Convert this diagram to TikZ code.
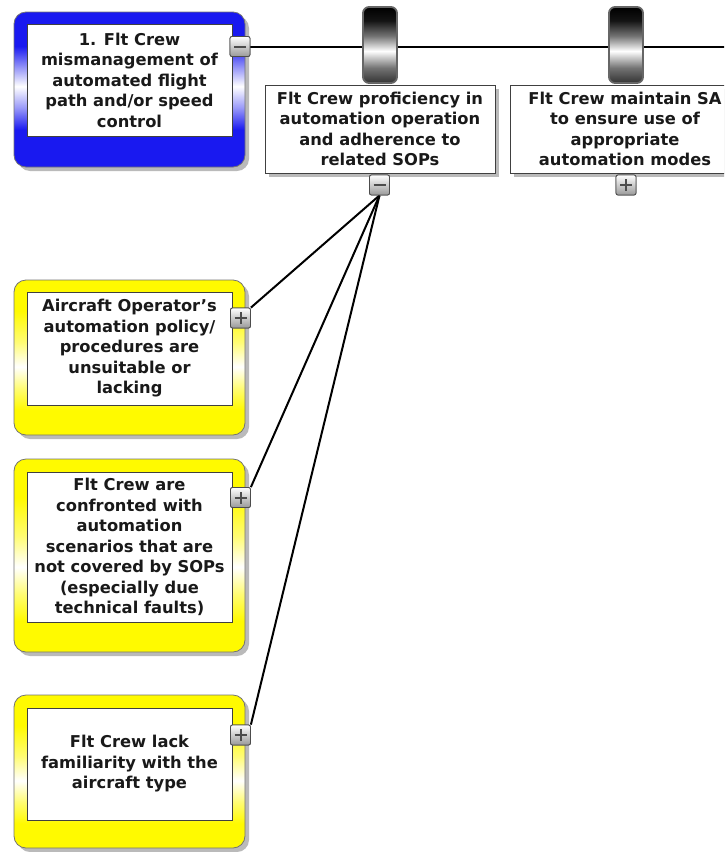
\documentclass[tikz,border=0pt]{standalone}
\usepackage{fontspec}
\setmainfont{DejaVu Sans}
\usetikzlibrary{shadows}
\definecolor{cardblue}{RGB}{25,25,240}
\definecolor{cardyellow}{RGB}{255,250,0}
\definecolor{inktext}{RGB}{25,25,25}
% vertical colour ramps (0bp = bottom, path spans 25bp..75bp)
\pgfdeclareverticalshading{bluecardshade}{100bp}{%
  color(0bp)=(cardblue); color(25bp)=(cardblue); color(37bp)=(cardblue);
  color(44bp)=(cardblue!45!white); color(51bp)=(white); color(57bp)=(cardblue!45!white);
  color(64bp)=(cardblue); color(75bp)=(cardblue); color(100bp)=(cardblue)}
\pgfdeclareverticalshading{yellowcardshade}{100bp}{%
  color(0bp)=(cardyellow); color(25bp)=(cardyellow); color(33bp)=(cardyellow);
  color(40bp)=(cardyellow!55!white); color(47bp)=(white); color(55bp)=(cardyellow!55!white);
  color(65bp)=(cardyellow); color(75bp)=(cardyellow); color(100bp)=(cardyellow)}
\pgfdeclareverticalshading{barriershade}{100bp}{%
  color(0bp)=(black!80); color(25bp)=(black!80); color(35bp)=(black!55);
  color(46bp)=(white); color(56bp)=(black!55); color(66bp)=(black!92);
  color(75bp)=(black); color(100bp)=(black)}
\begin{document}
\begin{tikzpicture}[x=1pt,y=-1pt,
  labeltext/.style={font=\bfseries\fontsize{16.3}{20.5}\selectfont, text=inktext, align=center},
  innerbox/.style={draw=black!75, line width=1pt, fill=white, inner sep=0pt, labeltext},
  cardshadow/.style={drop shadow={shadow xshift=4pt, shadow yshift=-4pt, fill=black!45, opacity=0.6}},
  card/.style={draw=black!55, line width=0.8pt, rounded corners=12pt, cardshadow},
  bluecard/.style={card, shade, shading=bluecardshade},
  yellowcard/.style={card, shade, shading=yellowcardshade},
  barrier/.style={draw=black!60, line width=1.8pt, rounded corners=6pt, shade, shading=barriershade},
  btn/.style={draw=black!70, line width=0.8pt, rounded corners=2pt,
    top color=white, bottom color=black!40, minimum width=20pt, minimum height=20pt, inner sep=0pt},
  sym/.style={line width=2pt, black!70},
  link/.style={line width=2pt, black}
]
\useasboundingbox (0,0) rectangle (724,852);
\clip (0,0) rectangle (724,852);

% outer cards of the threat boxes
\path[bluecard] (14,12) rectangle (245,167);
\path[yellowcard] (14,280) rectangle (245,435);
\path[yellowcard] (14,459) rectangle (245,652);
\path[yellowcard] (14,695) rectangle (245,848);

% text panels
\node[innerbox, minimum width=205pt, minimum height=112pt] (top) at (129.5,80)
  {1. Flt Crew\\mismanagement of\\automated flight\\path and/or speed\\control};
\node[innerbox, minimum width=205pt, minimum height=113pt] (t1) at (129.5,348.5)
  {Aircraft Operator's\\automation policy/\\procedures are\\unsuitable or\\lacking};
\node[innerbox, minimum width=205pt, minimum height=150pt] (t2) at (129.5,547)
  {Flt Crew are\\confronted with\\automation\\scenarios that are\\not covered by SOPs\\(especially due\\technical faults)};
\node[innerbox, minimum width=205pt, minimum height=112pt] (t3) at (129.5,764)
  {Flt Crew lack\\familiarity with the\\aircraft type};

% main pathway line
\node[btn] (topbtn) at (240,46.5) {};
\coordinate (lineend) at (730,46.5);
\draw[link] (topbtn.east) -- (lineend);

% barriers
\path[barrier] (363,7) rectangle ++(34,76);
\path[barrier] (609,7) rectangle ++(34,76);
\node[innerbox, cardshadow, minimum width=230pt, minimum height=88pt] (b1) at (380,129)
  {Flt Crew proficiency in\\automation operation\\and adherence to\\related SOPs};
\node[innerbox, cardshadow, minimum width=230pt, minimum height=88pt] (b2) at (625,129)
  {Flt Crew maintain SA\\to ensure use of\\appropriate\\automation modes};

% expand/collapse buttons
\node[btn] (b1btn) at (379.5,185) {};
\node[btn] (b2btn) at (626,185) {};
\node[btn] (t1btn) at (240.5,318) {};
\node[btn] (t2btn) at (240.5,497.5) {};
\node[btn] (t3btn) at (240.5,735) {};

% connectors from the barrier to its escalation factors
\draw[link] (b1btn.south) -- (t1btn.north east);
\draw[link] (b1btn.south) -- (t2btn.north east);
\draw[link] (b1btn.south) -- (t3btn.north east);

% redraw buttons on top of the connector ends
\foreach \b in {topbtn,b1btn,b2btn,t1btn,t2btn,t3btn}
  \node[btn] at (\b) {};

% minus signs
\foreach \b in {topbtn,b1btn}
  \draw[sym] ([xshift=-6pt]\b.center) -- ([xshift=6pt]\b.center);
% plus signs
\foreach \b in {b2btn,t1btn,t2btn,t3btn}{
  \draw[sym] ([xshift=-6pt]\b.center) -- ([xshift=6pt]\b.center);
  \draw[sym] ([yshift=-6pt]\b.center) -- ([yshift=6pt]\b.center);
}
\end{tikzpicture}
\end{document}
